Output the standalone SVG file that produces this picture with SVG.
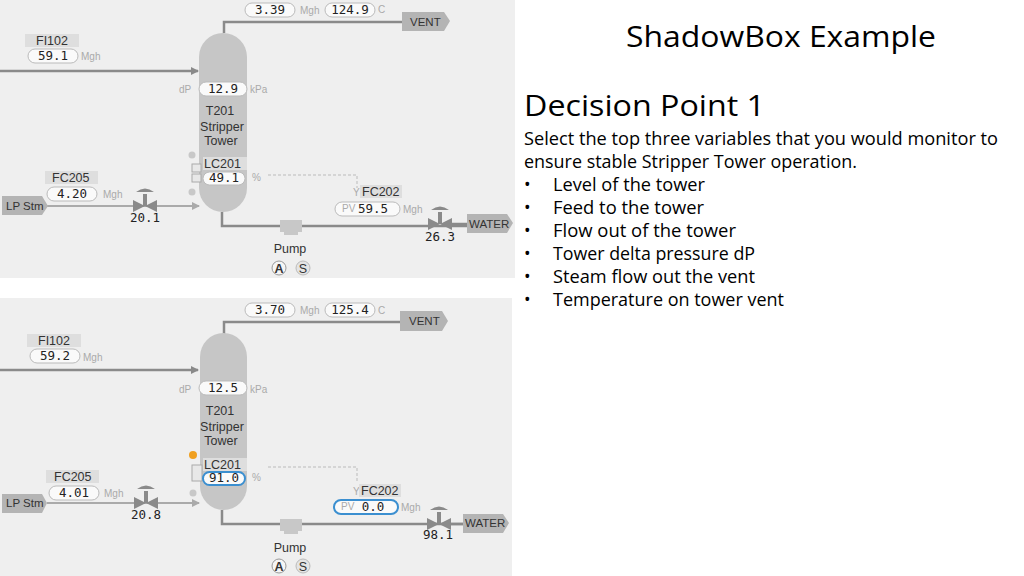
<svg xmlns="http://www.w3.org/2000/svg" width="1024" height="576" viewBox="0 0 1024 576">
<style>
.bg{fill:#efefef}
.pipe{fill:none;stroke:#8a8a8a;stroke-width:2.5}
.thin{fill:none;stroke:#aaa;stroke-width:2}
.tag{fill:#b4b4b4}
.tagt{font-family:"Liberation Sans",Arial,sans-serif;font-size:11.5px;fill:#333}
.lbl{fill:#dedede}
.lt{font-family:"Liberation Sans",Arial,sans-serif;font-size:12.5px;fill:#333}
.pill{fill:#fafafa;stroke:#bbb;stroke-width:1}
.pillb{fill:#fafafa;stroke:#3b8fd0;stroke-width:2}
.num{font-family:"DejaVu Sans Mono","Liberation Mono",monospace;font-size:12.5px;fill:#222;text-anchor:middle}
.unit{font-family:"Liberation Sans",Arial,sans-serif;font-size:10px;fill:#aaa}
.tower{fill:#c6c6c6}
.tt{font-family:"Liberation Sans",Arial,sans-serif;font-size:12.5px;fill:#333;text-anchor:middle}
.valve{fill:#8a8a8a}
.h1{font-family:"Open Sans","Noto Sans",sans-serif;fill:#000}
.body{font-family:"Open Sans","Noto Sans",sans-serif;font-size:17.5px;fill:#000}
</style>
<defs>
<marker id="ar" markerWidth="8" markerHeight="8" refX="7" refY="4" orient="auto" markerUnits="userSpaceOnUse"><path d="M0,0L8,4L0,8z" fill="#8a8a8a"/></marker>
<marker id="arl" markerWidth="8" markerHeight="8" refX="7" refY="4" orient="auto" markerUnits="userSpaceOnUse"><path d="M0,0L8,4L0,8z" fill="#aaa"/></marker>
</defs>
<rect width="1024" height="576" fill="#fff"/>

<g id="panel1">
<rect class="bg" x="0" y="0" width="515" height="278"/>
<g id="p1-connectors">
<path class="pipe" d="M224,33V22H404"/>
<path class="pipe" d="M0,71H198" marker-end="url(#ar)"/>
<path class="thin" d="M47,206H199" marker-end="url(#arl)"/>
<path class="pipe" d="M222,212V226H467"/>
<path d="M268,175H357V188" fill="none" stroke="#bbb" stroke-width="1" stroke-dasharray="3,2"/>
</g>
<g id="p1-vent"><path class="tag" d="M402,12H444L450,21L444,31H402z"/><text class="tagt" x="410" y="26">VENT</text></g>
<g id="p1-vflow"><rect class="pill" x="245" y="3" width="50" height="14" rx="7"/><text class="num" x="270" y="14">3.39</text><text class="unit" x="300" y="14">Mgh</text>
<rect class="pill" x="325" y="3" width="50" height="14" rx="7"/><text class="num" x="350" y="14">124.9</text><text class="unit" x="378" y="13">C</text></g>
<g id="p1-fi102"><rect class="lbl" x="25" y="34" width="54" height="13"/><text class="lt" x="36" y="45">FI102</text>
<rect class="pill" x="28" y="49" width="50" height="14" rx="7"/><text class="num" x="53" y="60">59.1</text><text class="unit" x="81" y="60">Mgh</text></g>
<g id="p1-tower"><rect class="tower" x="199" y="33" width="48" height="179" rx="24"/>
<text class="unit" x="179" y="93">dP</text><rect class="pill" x="199" y="82" width="48" height="14" rx="7"/><text class="num" x="223" y="93">12.9</text><text class="unit" x="250" y="93">kPa</text>
<text class="tt" x="220" y="115">T201</text><text class="tt" x="222" y="131">Stripper</text><text class="tt" x="221" y="145">Tower</text>
<circle cx="192" cy="155" r="3.5" fill="#c8c8c8"/><circle cx="192" cy="192" r="3.5" fill="#c8c8c8"/>
<rect x="192" y="164" width="9" height="8" fill="#e8e8e8" stroke="#aaa"/><rect x="192" y="174" width="9" height="8" fill="#e8e8e8" stroke="#aaa"/>
<rect class="lbl" x="203" y="157" width="44" height="13"/><text class="lt" x="204" y="168">LC201</text>
<rect class="pill" x="203" y="172" width="42" height="13" rx="6.5"/><text class="num" x="224" y="182">49.1</text><text class="unit" x="252" y="181">%</text></g>
<g id="p1-fc202"><text class="unit" x="353" y="196">Y</text><rect class="lbl" x="360" y="185" width="42" height="13"/><text class="lt" x="362" y="196">FC202</text>
<rect class="pill" x="335" y="202" width="65" height="14" rx="7"/><text class="unit" x="342" y="212" font-size="7">PV</text><text class="num" x="373" y="213">59.5</text><text class="unit" x="403" y="213">Mgh</text></g>
<g id="p1-lpstm"><path class="tag" d="M2,196H42L48,206L42,215H2z"/><text class="tagt" x="6" y="210">LP Stm</text></g>
<g id="p1-fc205"><rect class="lbl" x="45" y="171" width="53" height="13"/><text class="lt" x="52" y="182">FC205</text>
<rect class="pill" x="47" y="187" width="50" height="14" rx="7"/><text class="num" x="72" y="198">4.20</text><text class="unit" x="103" y="198">Mgh</text></g>
<g id="p1-v1"><path class="valve" d="M133,200L145,206L133,212zM157,200L145,206L157,212z"/><path class="valve" d="M143,194h4v12h-4zM136,192q9,-7 18,0z"/><text class="num" x="145" y="222">20.1</text></g>
<g id="p1-pump"><path d="M280,220h22v12h-4v3h-14v-3h-4z" fill="#c8c8c8"/><text class="tt" x="290" y="253">Pump</text>
<circle cx="279" cy="268" r="7" fill="#f5f5f5" stroke="#999"/><text class="tt" x="279" y="273" font-weight="bold">A</text>
<circle cx="303" cy="268" r="7" fill="#e4e4e4" stroke="#bbb"/><text class="tt" x="303" y="273" fill="#bbb">S</text></g>
<g id="p1-v2"><path class="valve" d="M428,218L440,224L428,230zM452,218L440,224L452,230z"/><path class="valve" d="M438,212h4v12h-4zM431,210q9,-7 18,0z"/><text class="num" x="440" y="241">26.3</text></g>
<g id="p1-water"><path class="pipe" d="M452,224H467"/><path class="tag" d="M467,214H507L513,223L507,233H467z"/><text class="tagt" x="469" y="228">WATER</text></g>
</g>

<g id="panel2" transform="translate(0,298)">
<rect class="bg" x="0" y="0" width="512" height="278"/>
<g id="p2-connectors">
<path class="pipe" d="M224,37V24H404"/>
<path class="pipe" d="M0,72H198" marker-end="url(#ar)"/>
<path class="thin" d="M47,205H199" marker-end="url(#arl)"/>
<path class="pipe" d="M222,212V226H467"/>
<path d="M268,169H357V183" fill="none" stroke="#bbb" stroke-width="1" stroke-dasharray="3,2"/>
</g>
<g id="p2-vent"><path class="tag" d="M400,13H442L448,23L442,33H400z"/><text class="tagt" x="409" y="27">VENT</text></g>
<g id="p2-vflow"><rect class="pill" x="245" y="5" width="50" height="14" rx="7"/><text class="num" x="270" y="16" font-family="Liberation Sans" font-size="11">3.70</text><text class="unit" x="300" y="16">Mgh</text>
<rect class="pill" x="325" y="5" width="50" height="14" rx="7"/><text class="num" x="350" y="16">125.4</text><text class="unit" x="378" y="16">C</text></g>
<g id="p2-fi102"><rect class="lbl" x="27" y="36" width="54" height="13"/><text class="lt" x="38" y="47">FI102</text>
<rect class="pill" x="30" y="51" width="50" height="14" rx="7"/><text class="num" x="55" y="62">59.2</text><text class="unit" x="83" y="63">Mgh</text></g>
<g id="p2-tower"><rect class="tower" x="200" y="35" width="47" height="177" rx="24"/>
<text class="unit" x="179" y="95">dP</text><rect class="pill" x="199" y="83" width="48" height="14" rx="7"/><text class="num" x="223" y="94" font-family="Liberation Sans" font-size="11">12.5</text><text class="unit" x="250" y="95">kPa</text>
<text class="tt" x="220" y="117">T201</text><text class="tt" x="222" y="133">Stripper</text><text class="tt" x="221" y="147">Tower</text>
<circle cx="193" cy="157" r="4" fill="#f0a020"/><circle cx="193" cy="195" r="3.5" fill="#c8c8c8"/>
<rect x="192" y="167" width="10" height="16" fill="#e8e8e8" stroke="#aaa"/>
<rect class="lbl" x="203" y="160" width="44" height="13"/><text class="lt" x="204" y="171">LC201</text>
<rect class="pillb" x="203" y="174" width="42" height="13" rx="6.5"/><text class="num" x="224" y="184">91.0</text><text class="unit" x="252" y="183">%</text></g>
<g id="p2-fc202"><text class="unit" x="353" y="197">Y</text><rect class="lbl" x="359" y="186" width="42" height="13"/><text class="lt" x="361" y="197">FC202</text>
<rect class="pillb" x="334" y="202" width="64" height="14" rx="7"/><text class="unit" x="341" y="212" font-size="7">PV</text><text class="num" x="373" y="213">0.0</text><text class="unit" x="401" y="213">Mgh</text></g>
<g id="p2-lpstm"><path class="tag" d="M2,196H42L47,205L42,215H2z"/><text class="tagt" x="6" y="209">LP Stm</text></g>
<g id="p2-fc205"><rect class="lbl" x="46" y="172" width="53" height="13"/><text class="lt" x="54" y="183">FC205</text>
<rect class="pill" x="49" y="188" width="50" height="14" rx="7"/><text class="num" x="74" y="199">4.01</text><text class="unit" x="104" y="199">Mgh</text></g>
<g id="p2-v1"><path class="valve" d="M134,199L146,205L134,211zM158,199L146,205L158,211z"/><path class="valve" d="M144,193h4v12h-4zM137,191q9,-7 18,0z"/><text class="num" x="146" y="221">20.8</text></g>
<g id="p2-pump"><path d="M280,221h22v12h-4v3h-14v-3h-4z" fill="#c8c8c8"/><text class="tt" x="290" y="254">Pump</text>
<circle cx="279" cy="268" r="7" fill="#f5f5f5" stroke="#999"/><text class="tt" x="279" y="273" font-weight="bold">A</text>
<circle cx="303" cy="268" r="7" fill="#e4e4e4" stroke="#bbb"/><text class="tt" x="303" y="273" fill="#bbb">S</text></g>
<g id="p2-v2"><path class="valve" d="M427,220L439,226L427,232zM451,220L439,226L451,232z"/><path class="valve" d="M437,214h4v12h-4zM430,212q9,-7 18,0z"/><text class="num" x="438" y="241">98.1</text></g>
<g id="p2-water"><path class="pipe" d="M451,226H463"/><path class="tag" d="M463,216H503L509,225L503,235H463z"/><text class="tagt" x="465" y="229">WATER</text></g>
</g>

<g id="text">
<text class="h1" x="781" y="47" font-size="30" text-anchor="middle" textLength="310" lengthAdjust="spacingAndGlyphs">ShadowBox Example</text>
<text class="h1" x="524" y="116" font-size="29" textLength="241" lengthAdjust="spacingAndGlyphs">Decision Point 1</text>
<text class="body" x="524" y="145" textLength="474" lengthAdjust="spacingAndGlyphs">Select the top three variables that you would monitor to</text>
<text class="body" x="524" y="168" textLength="333" lengthAdjust="spacingAndGlyphs">ensure stable Stripper Tower operation.</text>
<g class="body">
<text x="524" y="191">•</text><text x="553" y="191" textLength="152" lengthAdjust="spacingAndGlyphs">Level of the tower</text>
<text x="524" y="214">•</text><text x="553" y="214" textLength="151" lengthAdjust="spacingAndGlyphs">Feed to the tower</text>
<text x="524" y="237">•</text><text x="553" y="237" textLength="183" lengthAdjust="spacingAndGlyphs">Flow out of the tower</text>
<text x="524" y="260">•</text><text x="553" y="260" textLength="202" lengthAdjust="spacingAndGlyphs">Tower delta pressure dP</text>
<text x="524" y="283">•</text><text x="553" y="283" textLength="202" lengthAdjust="spacingAndGlyphs">Steam flow out the vent</text>
<text x="524" y="306">•</text><text x="553" y="306" textLength="231" lengthAdjust="spacingAndGlyphs">Temperature on tower vent</text>
</g>
</g>
</svg>
